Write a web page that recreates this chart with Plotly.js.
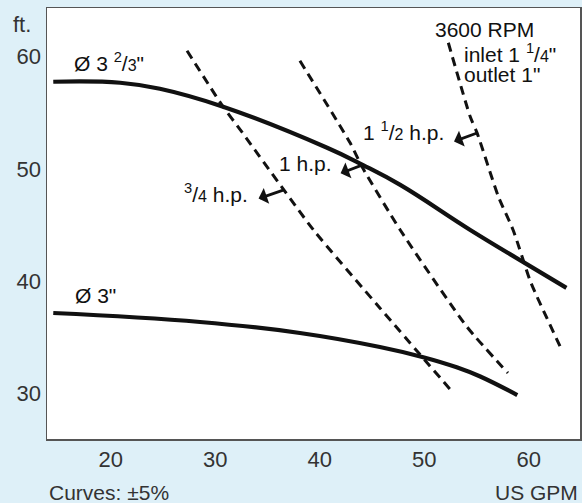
<!DOCTYPE html>
<html>
<head>
<meta charset="utf-8">
<script src="https://cdn.plot.ly/plotly-3.0.1.min.js"></script>
<style>
  html, body { margin: 0; padding: 0; background: #def0f8; }
  #chart { width: 582px; height: 503px; }
</style>
</head>
<body>
<div id="chart"></div>
<script>
// Impeller curves (US GPM vs ft.)
const bigX = [14.5, 20.9, 24.7, 30.75, 40.7, 44.1, 47.7, 54.4, 59.8, 63.6];
const bigY = [57.77, 57.68, 57.14, 55.54, 51.88, 50.36, 48.57, 44.55, 41.5, 39.38];

const smallX = [14.5, 28.55, 38.1, 45.75, 49.9, 53.1, 55.3, 58.9];
const smallY = [37.14, 36.34, 35.36, 34.11, 33.2, 32.3, 31.5, 29.82];

// Power lines (dashed)
const hp34X = [27.3, 30.75, 32.4, 39.4, 45.75, 52.7];
const hp34Y = [60.54, 55.54, 53.48, 44.55, 37.59, 30.09];

const hp1X = [38.1, 42.9, 44.1, 47.7, 54.1, 58.0];
const hp1Y = [59.64, 52.32, 50.09, 44.55, 35.89, 31.79];

const hp15X = [52.3, 54.4, 55.05, 57.1, 58.5, 60.1, 60.8, 63.2];
const hp15Y = [61.25, 54.64, 53.21, 47.5, 44.55, 40.09, 38.57, 33.75];

const xTicks = [20, 30, 40, 50, 60];
const yTicks = [30, 40, 50, 60];

const solid = {color: '#111', width: 4.2, shape: 'spline', smoothing: 1.2};
const dashed = {color: '#111', width: 3, dash: '9px,6px', shape: 'spline', smoothing: 0.6};

const traces = [
  {x: bigX, y: bigY, mode: 'lines', line: solid, hoverinfo: 'skip'},
  {x: smallX, y: smallY, mode: 'lines', line: solid, hoverinfo: 'skip'},
  {x: hp34X, y: hp34Y, mode: 'lines', line: dashed, hoverinfo: 'skip'},
  {x: hp1X, y: hp1Y, mode: 'lines', line: dashed, hoverinfo: 'skip'},
  {x: hp15X, y: hp15Y, mode: 'lines', line: dashed, hoverinfo: 'skip'}
];

const FAM = 'Liberation Sans, Arial, sans-serif';
const lblFont = {family: FAM, size: 21, color: '#111'};
const axFont = {family: FAM, size: 22, color: '#333'};

function frac(n, d) {
  return '<sup>' + n + '</sup>/<span style="font-size:16px">' + d + '</span>';
}
function txt(x, y, text, xanchor) {
  return {x: x, y: y, xref: 'x', yref: 'y', text: text, showarrow: false,
          xanchor: xanchor || 'center', yanchor: 'middle', font: lblFont};
}
function arr(x, y, hx, hy) {
  return {x: x, y: y, xref: 'x', yref: 'y', ax: hx, ay: hy, axref: 'x', ayref: 'y',
          text: '', showarrow: true, arrowside: 'start', arrowhead: 2, arrowsize: 1,
          arrowwidth: 2.8, arrowcolor: '#111', standoff: 0, startstandoff: 0};
}

const annotations = [
  txt(19.8, 59.5, 'Ø 3 ' + frac(2, 3) + '"'),
  txt(18.5, 38.7, 'Ø 3"'),
  txt(50.8, 62.45, '3600 RPM', 'left'),
  txt(53.6, 60.3, 'inlet 1 ' + frac(1, 4) + '"', 'left'),
  txt(53.6, 58.4, 'outlet 1"', 'left'),
  txt(48.0, 53.4, '1 ' + frac(1, 2) + ' h.p.'),
  txt(38.6, 50.5, '1 h.p.'),
  txt(30.1, 47.85, frac(3, 4) + ' h.p.'),
  arr(55.05, 53.2, 52.7, 52.4),
  arr(44.1, 50.36, 41.85, 49.55),
  arr(36.5, 48.1, 34.0, 47.3),
  {x: -0.046, y: 0.961, xref: 'paper', yref: 'paper', text: 'ft.', showarrow: false,
   xanchor: 'center', yanchor: 'middle', font: axFont},
  {x: 0.0, y: -0.125, xref: 'paper', yref: 'paper', text: 'Curves: ±5%', showarrow: false,
   xanchor: 'left', yanchor: 'middle', font: {family: FAM, size: 21, color: '#333'}},
  {x: 1.0, y: -0.125, xref: 'paper', yref: 'paper', text: 'US GPM', showarrow: false,
   xanchor: 'right', yanchor: 'middle', font: {family: FAM, size: 21, color: '#333'}}
];

const layout = {
  width: 582, height: 503,
  margin: {l: 47, r: 2, t: 8, b: 64, pad: 0},
  paper_bgcolor: '#def0f8',
  plot_bgcolor: '#ffffff',
  showlegend: false,
  xaxis: {range: [13.9, 64.9], tickvals: xTicks, ticktext: xTicks.map(String),
          showgrid: false, zeroline: false, showline: true, mirror: true,
          linecolor: '#555', linewidth: 1.5, ticks: '', tickfont: axFont},
  yaxis: {range: [25.9, 64.35], tickvals: yTicks, ticktext: yTicks.map(String),
          showgrid: false, zeroline: false, showline: true, mirror: true,
          linecolor: '#555', linewidth: 1.5, ticks: '', tickfont: axFont},
  annotations: annotations
};

Plotly.newPlot('chart', traces, layout, {staticPlot: true, displayModeBar: false});
</script>
</body>
</html>
